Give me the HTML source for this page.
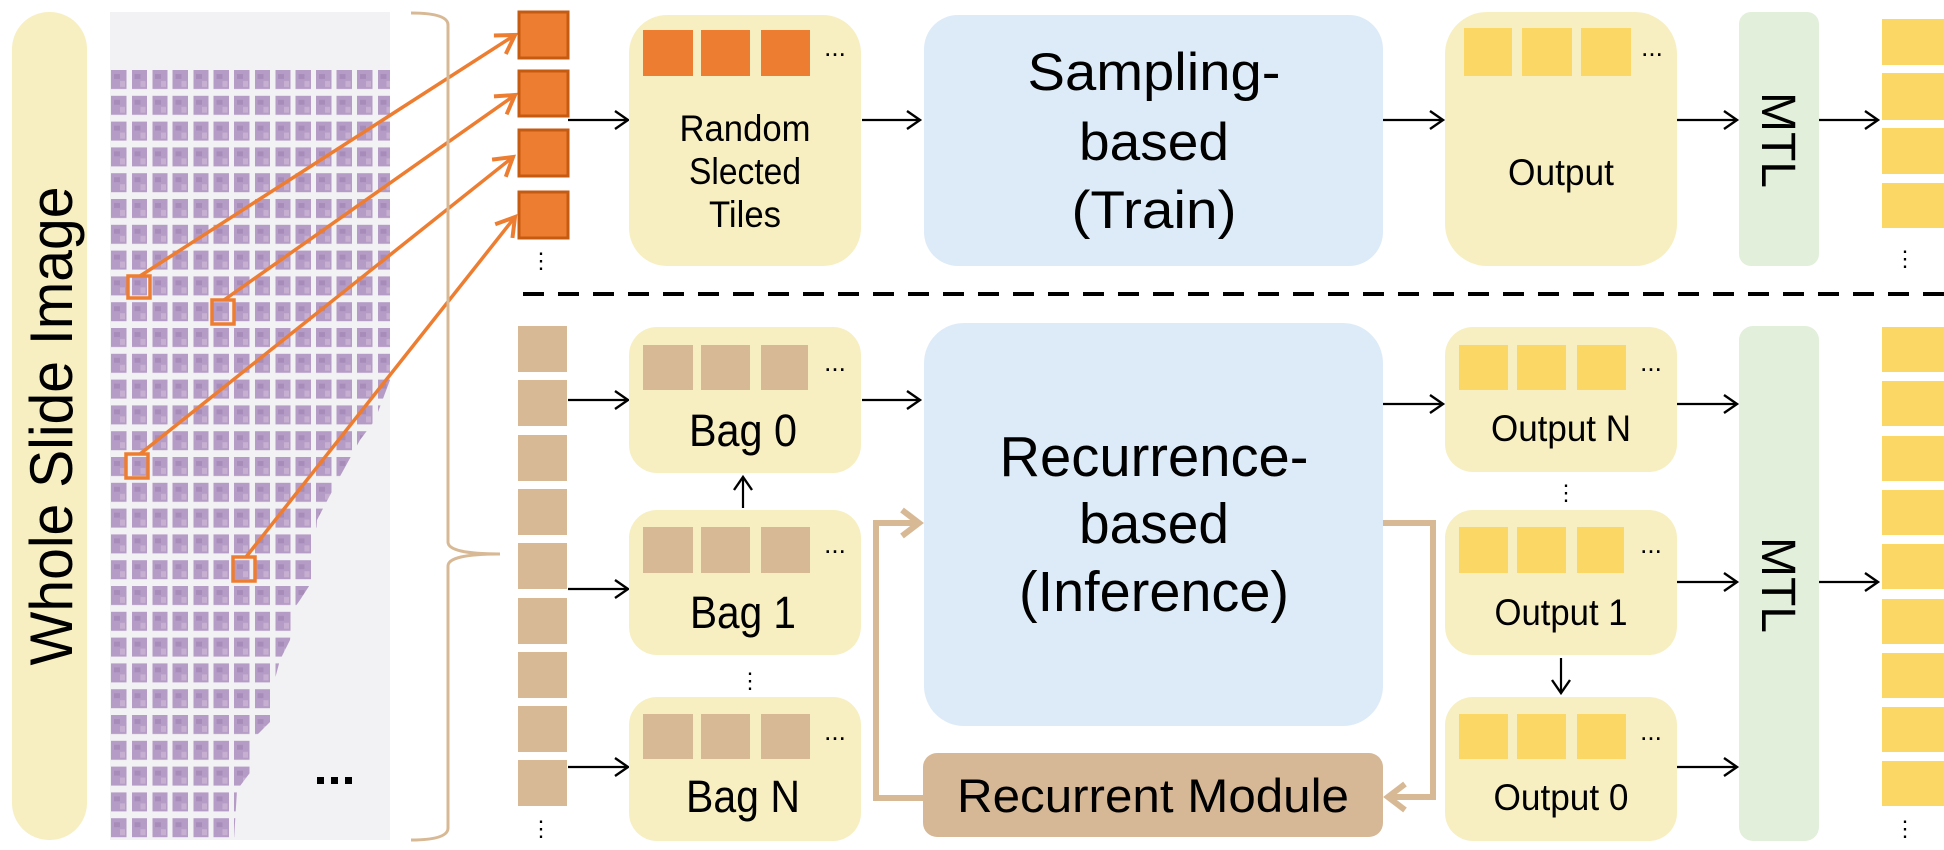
<!DOCTYPE html>
<html><head><meta charset="utf-8"><style>
html,body{margin:0;padding:0;background:#fff;}
svg{display:block;}
text{font-family:"Liberation Sans",Arial,sans-serif;fill:#000;}
</style></head><body>
<svg width="1944" height="850" viewBox="0 0 1944 850" xmlns="http://www.w3.org/2000/svg">
<defs>
<marker id="ab" markerUnits="userSpaceOnUse" markerWidth="20" markerHeight="24" refX="15" refY="12" orient="auto">
<path d="M2,3 L15,12 L2,21" fill="none" stroke="#000" stroke-width="2.4"/></marker>
<marker id="ao" markerUnits="userSpaceOnUse" markerWidth="26" markerHeight="30" refX="20" refY="15" orient="auto">
<path d="M2,4 L20,15 L2,26" fill="none" stroke="#ED7D31" stroke-width="4"/></marker>
<marker id="at" markerUnits="userSpaceOnUse" markerWidth="26" markerHeight="34" refX="20" refY="17" orient="auto">
<path d="M3,4 L20,17 L3,30" fill="none" stroke="#D8B995" stroke-width="6"/></marker>
<pattern id="tiles" patternUnits="userSpaceOnUse" x="111" y="70" width="20.5" height="25.8">
<rect x="0" y="0" width="15.5" height="19" fill="#B59CC6"/>
<rect x="3" y="4" width="6" height="5" fill="#9E82B3" opacity="0.6"/>
<rect x="9" y="11" width="5" height="6" fill="#CDB8D6" opacity="0.7"/>
</pattern>
<clipPath id="tissue"><polygon points="110,68 390,68 390,380 375,420 360,440 338,480 317,520 313,580 300,600 293,610 290,640 280,660 272,690 272,720 252,740 252,770 237,790 234,840 110,840"/></clipPath>
</defs>

<!-- WSI pill -->
<rect x="12" y="12" width="75" height="828" rx="37" fill="#F7EFC1"/>
<text transform="translate(72,426) rotate(-90)" text-anchor="middle" font-size="60" textLength="479" lengthAdjust="spacingAndGlyphs">Whole Slide Image</text>

<!-- slide -->
<rect x="110" y="12" width="280" height="828" fill="#F2F1F3"/>
<rect x="110" y="68" width="280" height="772" fill="url(#tiles)" clip-path="url(#tissue)"/>
<rect x="317" y="777" width="7" height="7" fill="#000"/><rect x="331" y="777" width="7" height="7" fill="#000"/><rect x="345" y="777" width="7" height="7" fill="#000"/>

<!-- highlight squares & orange lines -->
<g fill="none" stroke="#ED7D31" stroke-width="3.5">
<rect x="128" y="276" width="22" height="22"/>
<rect x="212" y="300" width="22" height="24"/>
<rect x="126" y="454" width="22" height="24"/>
<rect x="233" y="557" width="22" height="24"/>
</g>
<g stroke="#ED7D31" stroke-width="3.5" fill="none" marker-end="url(#ao)">
<line x1="140" y1="276" x2="515" y2="35"/>
<line x1="224" y1="300" x2="515" y2="95"/>
<line x1="140" y1="454" x2="513" y2="157"/>
<line x1="246" y1="557" x2="515" y2="217"/>
</g>

<!-- bracket -->
<path d="M411,13 Q448,13 448,25 L448,542 Q448,554 500,554 Q448,554 448,566 L448,828 Q448,840 411,840" fill="none" stroke="#D8B995" stroke-width="3"/>

<!-- orange tiles -->
<g fill="#ED7D31" stroke="#C55A11" stroke-width="3">
<rect x="519" y="12" width="49" height="46"/>
<rect x="519" y="71" width="49" height="45"/>
<rect x="519" y="130" width="49" height="46"/>
<rect x="519" y="192" width="49" height="46"/>
</g>
<text x="541" y="268" font-size="22" text-anchor="middle">⋮</text>

<!-- top row -->
<g stroke="#000" stroke-width="2.2" marker-end="url(#ab)">
<line x1="568" y1="120" x2="628" y2="120"/>
<line x1="862" y1="120" x2="920" y2="120"/>
<line x1="1383" y1="120" x2="1443" y2="120"/>
<line x1="1677" y1="120" x2="1737" y2="120"/>
<line x1="1819" y1="120" x2="1878" y2="120"/>
</g>
<rect x="629" y="15" width="232" height="251" rx="38" fill="#F7EFC1"/>
<g fill="#ED7D31"><rect x="643" y="30" width="50" height="46"/><rect x="701" y="30" width="49" height="46"/><rect x="761" y="30" width="49" height="46"/></g>
<text x="835" y="56" font-size="26" text-anchor="middle">...</text>
<text x="745" y="141" font-size="37" text-anchor="middle" textLength="131" lengthAdjust="spacingAndGlyphs">Random</text>
<text x="745" y="184" font-size="37" text-anchor="middle" textLength="112" lengthAdjust="spacingAndGlyphs">Slected</text>
<text x="745" y="227" font-size="37" text-anchor="middle" textLength="72" lengthAdjust="spacingAndGlyphs">Tiles</text>

<rect x="924" y="15" width="459" height="251" rx="34" fill="#DDEBF8"/>
<text x="1154" y="90" font-size="53" text-anchor="middle" textLength="253" lengthAdjust="spacingAndGlyphs">Sampling-</text>
<text x="1154" y="160" font-size="53" text-anchor="middle" textLength="150" lengthAdjust="spacingAndGlyphs">based</text>
<text x="1154" y="228" font-size="53" text-anchor="middle" textLength="165" lengthAdjust="spacingAndGlyphs">(Train)</text>

<rect x="1445" y="12" width="232" height="254" rx="42" fill="#F7EFC1"/>
<g fill="#FBD865"><rect x="1464" y="28" width="48" height="48"/><rect x="1522" y="28" width="50" height="48"/><rect x="1581" y="28" width="50" height="48"/></g>
<text x="1652" y="56" font-size="26" text-anchor="middle">...</text>
<text x="1561" y="185" font-size="37" text-anchor="middle" textLength="106" lengthAdjust="spacingAndGlyphs">Output</text>

<rect x="1739" y="12" width="80" height="254" rx="12" fill="#E2EFDA"/>
<text transform="translate(1762,140) rotate(90)" text-anchor="middle" font-size="48" textLength="96" lengthAdjust="spacingAndGlyphs">MTL</text>

<g fill="#FBD865"><rect x="1882" y="19" width="62" height="46"/><rect x="1882" y="73" width="62" height="47"/><rect x="1882" y="128" width="62" height="46"/><rect x="1882" y="183" width="62" height="45"/></g>
<text x="1905" y="266" font-size="22" text-anchor="middle">⋮</text>

<!-- dashed -->
<line x1="523" y1="294" x2="1944" y2="294" stroke="#000" stroke-width="4" stroke-dasharray="21,14"/>

<!-- tan tiles -->
<g fill="#D7B995">
<rect x="518" y="326" width="49" height="46"/><rect x="518" y="380" width="49" height="46"/><rect x="518" y="435" width="49" height="46"/>
<rect x="518" y="489" width="49" height="46"/><rect x="518" y="543" width="49" height="46"/><rect x="518" y="598" width="49" height="46"/>
<rect x="518" y="652" width="49" height="46"/><rect x="518" y="706" width="49" height="46"/><rect x="518" y="760" width="49" height="46"/>
</g>
<text x="541" y="836" font-size="22" text-anchor="middle">⋮</text>

<g stroke="#000" stroke-width="2.2" marker-end="url(#ab)">
<line x1="568" y1="400" x2="628" y2="400"/>
<line x1="568" y1="589" x2="628" y2="589"/>
<line x1="568" y1="767" x2="628" y2="767"/>
<line x1="743" y1="508" x2="743" y2="477"/>
<line x1="862" y1="400" x2="920" y2="400"/>
<line x1="1383" y1="404" x2="1443" y2="404"/>
<line x1="1677" y1="404" x2="1737" y2="404"/>
<line x1="1677" y1="582" x2="1737" y2="582"/>
<line x1="1677" y1="767" x2="1737" y2="767"/>
<line x1="1819" y1="582" x2="1878" y2="582"/>
<line x1="1561" y1="658" x2="1561" y2="693"/>
</g>

<!-- bags -->
<g fill="#F7EFC1">
<rect x="629" y="327" width="232" height="146" rx="28"/>
<rect x="629" y="510" width="232" height="145" rx="28"/>
<rect x="629" y="697" width="232" height="144" rx="28"/>
</g>
<g fill="#D7B995">
<rect x="643" y="345" width="50" height="45"/><rect x="701" y="345" width="49" height="45"/><rect x="761" y="345" width="47" height="45"/>
<rect x="643" y="527" width="50" height="46"/><rect x="701" y="527" width="49" height="46"/><rect x="761" y="527" width="49" height="46"/>
<rect x="643" y="714" width="50" height="45"/><rect x="701" y="714" width="49" height="45"/><rect x="761" y="714" width="49" height="45"/>
</g>
<text x="835" y="371" font-size="26" text-anchor="middle">...</text>
<text x="835" y="553" font-size="26" text-anchor="middle">...</text>
<text x="835" y="740" font-size="26" text-anchor="middle">...</text>
<text x="743" y="446" font-size="45" text-anchor="middle" textLength="108" lengthAdjust="spacingAndGlyphs">Bag 0</text>
<text x="743" y="628" font-size="45" text-anchor="middle" textLength="106" lengthAdjust="spacingAndGlyphs">Bag 1</text>
<text x="743" y="812" font-size="45" text-anchor="middle" textLength="114" lengthAdjust="spacingAndGlyphs">Bag N</text>
<text x="750" y="688" font-size="22" text-anchor="middle">⋮</text>

<!-- recurrence -->
<rect x="924" y="323" width="459" height="403" rx="40" fill="#DDEBF8"/>
<text x="1154" y="476" font-size="57" text-anchor="middle" textLength="309" lengthAdjust="spacingAndGlyphs">Recurrence-</text>
<text x="1154" y="543" font-size="57" text-anchor="middle" textLength="150" lengthAdjust="spacingAndGlyphs">based</text>
<text x="1154" y="611" font-size="57" text-anchor="middle" textLength="270" lengthAdjust="spacingAndGlyphs">(Inference)</text>

<rect x="923" y="753" width="460" height="84" rx="14" fill="#D6B896"/>
<text x="1153" y="812" font-size="47" text-anchor="middle" textLength="392" lengthAdjust="spacingAndGlyphs">Recurrent Module</text>

<g fill="none" stroke="#D8B995" stroke-width="6">
<path d="M1383,523 L1433,523 L1433,797 L1388,797" marker-end="url(#at)"/>
<path d="M923,798 L876,798 L876,523 L919,523" marker-end="url(#at)"/>
</g>

<!-- outputs -->
<g fill="#F7EFC1">
<rect x="1445" y="327" width="232" height="145" rx="28"/>
<rect x="1445" y="510" width="232" height="145" rx="28"/>
<rect x="1445" y="697" width="232" height="144" rx="28"/>
</g>
<g fill="#FBD865">
<rect x="1459" y="345" width="49" height="45"/><rect x="1517" y="345" width="49" height="45"/><rect x="1577" y="345" width="49" height="45"/>
<rect x="1459" y="527" width="49" height="46"/><rect x="1517" y="527" width="49" height="46"/><rect x="1577" y="527" width="47" height="46"/>
<rect x="1459" y="714" width="49" height="45"/><rect x="1517" y="714" width="49" height="45"/><rect x="1577" y="714" width="49" height="45"/>
</g>
<text x="1651" y="371" font-size="26" text-anchor="middle">...</text>
<text x="1651" y="553" font-size="26" text-anchor="middle">...</text>
<text x="1651" y="740" font-size="26" text-anchor="middle">...</text>
<text x="1561" y="441" font-size="37" text-anchor="middle" textLength="140" lengthAdjust="spacingAndGlyphs">Output N</text>
<text x="1561" y="625" font-size="37" text-anchor="middle" textLength="133" lengthAdjust="spacingAndGlyphs">Output 1</text>
<text x="1561" y="810" font-size="37" text-anchor="middle" textLength="135" lengthAdjust="spacingAndGlyphs">Output 0</text>
<text x="1566" y="500" font-size="22" text-anchor="middle">⋮</text>

<rect x="1739" y="326" width="80" height="515" rx="14" fill="#E2EFDA"/>
<text transform="translate(1762,585) rotate(90)" text-anchor="middle" font-size="48" textLength="96" lengthAdjust="spacingAndGlyphs">MTL</text>

<g fill="#FBD865">
<rect x="1882" y="327" width="62" height="45"/><rect x="1882" y="381" width="62" height="45"/><rect x="1882" y="436" width="62" height="45"/>
<rect x="1882" y="490" width="62" height="45"/><rect x="1882" y="544" width="62" height="45"/><rect x="1882" y="599" width="62" height="45"/>
<rect x="1882" y="653" width="62" height="45"/><rect x="1882" y="707" width="62" height="45"/><rect x="1882" y="761" width="62" height="45"/>
</g>
<text x="1905" y="836" font-size="22" text-anchor="middle">⋮</text>
</svg>
</body></html>
